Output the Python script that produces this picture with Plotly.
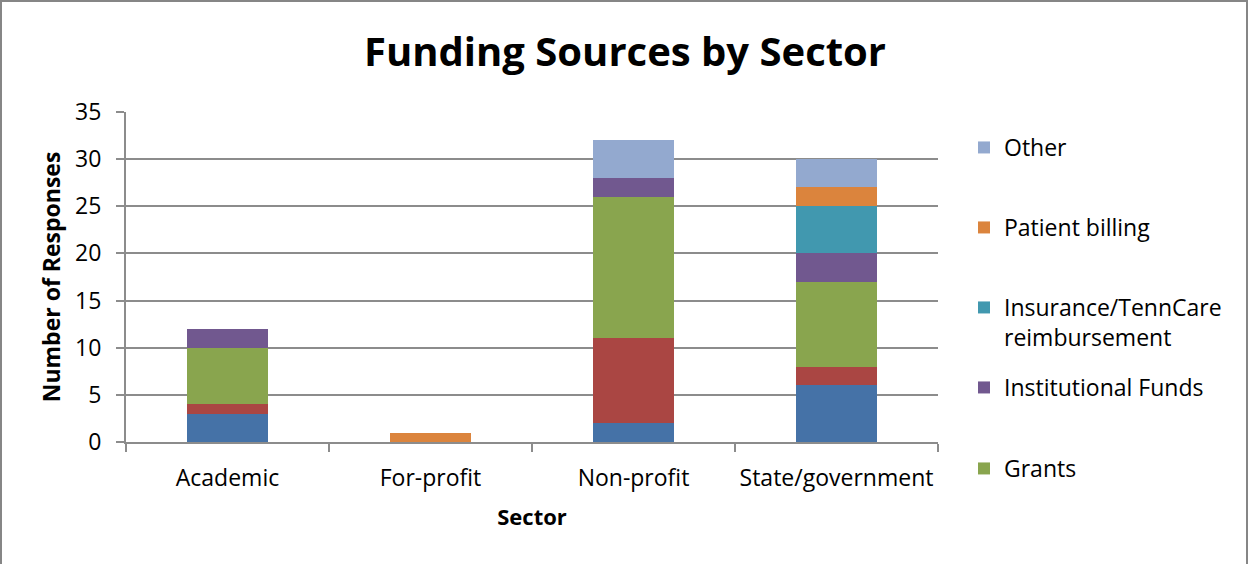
import plotly.graph_objects as go

# Sectors along the x axis
sectors = ["Academic", "For-profit", "Non-profit", "State/government"]

# Number of responses per funding source, stacked bottom to top
state_funds = [3, 0, 2, 6]
federal_funds = [1, 0, 9, 2]
grants = [6, 0, 15, 9]
institutional = [2, 0, 2, 3]
insurance = [0, 0, 0, 5]
patient_billing = [0, 1, 0, 2]
other = [0, 0, 4, 3]

y_ticks = [0, 5, 10, 15, 20, 25, 30, 35]

FONT = "Open Sans"
GRID = "#8c8c8c"
TXT = 23

# plot-area pixel box inside the 1249x564 canvas
L, R, T, B = 126, 938, 112, 442
W, H = 1249, 564


def px(x):
    return (x - L) / (R - L)


def py(y):
    return (B - y) / (B - T)


series = [
    ("State funds", state_funds, "#4572A7", None),
    ("Federal funds", federal_funds, "#AA4643", None),
    ("Grants", grants, "#89A54E", "legend5"),
    ("Institutional Funds", institutional, "#71588F", "legend4"),
    ("Insurance/TennCare<br>reimbursement", insurance, "#4198AF", "legend3"),
    ("Patient billing", patient_billing, "#DB843D", "legend2"),
    ("Other", other, "#93A9CF", "legend"),
]

fig = go.Figure()
for name, vals, color, leg in series:
    fig.add_trace(go.Bar(
        x=sectors, y=vals, name=name,
        marker=dict(color=color, line=dict(width=0)),
        showlegend=leg is not None,
        legend=leg if leg else "legend",
    ))

legend_style = dict(
    font=dict(family=FONT, size=TXT, color="#000000"),
    bgcolor="rgba(0,0,0,0)", borderwidth=0,
    xanchor="left", x=px(964), valign="top",
)
legend_rows = {"legend": 147, "legend2": 227, "legend3": 307,
               "legend4": 387, "legend5": 468}
layout_legends = {}
for key, yc in legend_rows.items():
    layout_legends[key] = dict(legend_style, y=py(yc - 21), yanchor="top")

fig.update_layout(
    width=W, height=H,
    margin=dict(l=L, r=W - R, t=T, b=H - B, autoexpand=False),
    paper_bgcolor="white", plot_bgcolor="white",
    barmode="stack", bargap=0.6,
    font=dict(family=FONT, color="#000000"),
    title=dict(
        text="<b>Funding Sources by Sector</b>",
        font=dict(family=FONT, size=40, color="#000000"),
        x=px(625), xref="paper", xanchor="center",
        y=1 - 52 / H, yref="container", yanchor="middle",
    ),
    xaxis=dict(
        type="category", tickson="boundaries", tickangle=0,
        showline=True, linecolor=GRID, linewidth=2,
        ticks="outside", ticklen=8, tickwidth=2, tickcolor=GRID,
        showgrid=False, zeroline=False,
        tickfont=dict(family=FONT, size=TXT, color="#000000"),
        ticklabelstandoff=14,
        title=dict(text="<b>Sector</b>",
                   font=dict(family=FONT, size=22, color="#000000"),
                   standoff=18),
    ),
    yaxis=dict(
        range=[0, 35], tickvals=y_ticks,
        showline=True, linecolor=GRID, linewidth=2,
        ticks="outside", ticklen=8, tickwidth=2, tickcolor=GRID,
        showgrid=True, gridcolor=GRID, gridwidth=2,
        zeroline=False,
        tickfont=dict(family=FONT, size=TXT, color="#000000"),
        ticklabelstandoff=10,
        title=dict(text="<b>Number of Responses</b>",
                   font=dict(family=FONT, size=TXT, color="#000000"),
                   standoff=8),
    ),
    shapes=[dict(
        type="rect", xref="paper", yref="paper",
        x0=px(1), x1=px(1247), y0=py(1), y1=py(640),
        line=dict(color="#868686", width=2), fillcolor="rgba(0,0,0,0)",
        layer="below",
    )],
    **layout_legends,
)

fig.write_html("out.html")
